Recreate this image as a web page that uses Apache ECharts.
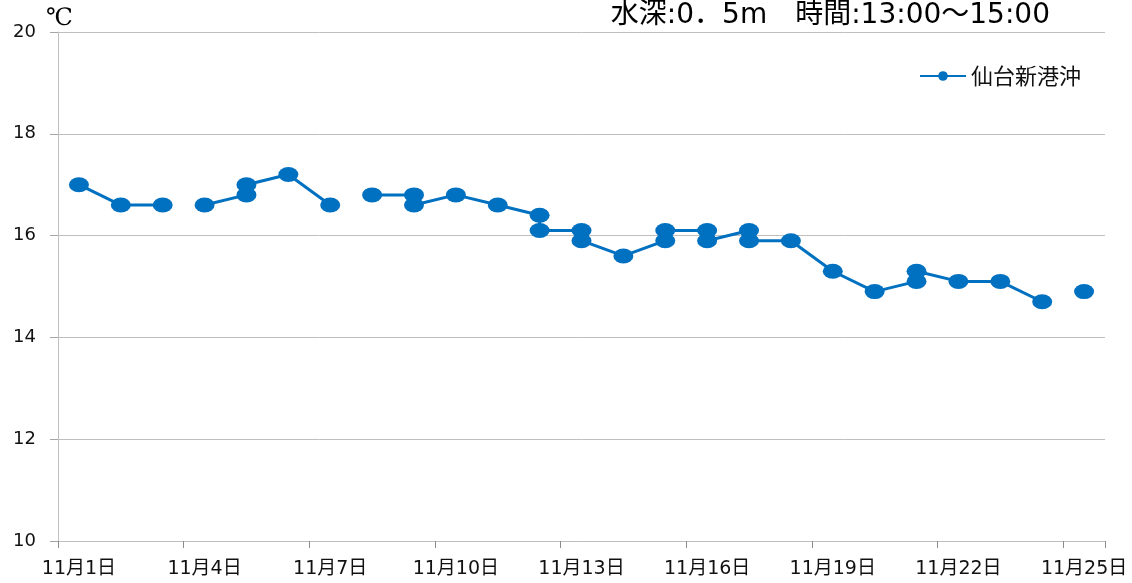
<!DOCTYPE html>
<html>
<head>
<meta charset="utf-8">
<title>仙台新港沖 水温</title>
<script src="https://cdn.jsdelivr.net/npm/echarts@6/dist/echarts.min.js"></script>
<style>
  html, body { margin: 0; padding: 0; background: #fff; }
  #main { width: 1132px; height: 583px; }
</style>
</head>
<body>
<div id="main"></div>
<script>
// 日付（カテゴリ）
var dayLabels = [];
for (var d = 1; d <= 25; d++) dayLabels.push('11月' + d + '日');

// 観測日（11月の日）と水温。null は線の切れ目
var obsDay = [1, 2, 3, 3, 4, 5, 5, 6, 7, 7, 8, 9, 9, 10, 11, 12, 12, 13, 13, 14,
  15, 15, 16, 16, 17, 17, 18, 19, 20, 21, 21, 22, 23, 24, 24, 25];
var obsTemp = [17.0, 16.6, 16.6, null, 16.6, 16.8, 17.0, 17.2, 16.6, null, 16.8, 16.8, 16.6, 16.8, 16.6, 16.4, 16.1, 16.1, 15.9, 15.6,
  15.9, 16.1, 16.1, 15.9, 16.1, 15.9, 15.9, 15.3, 14.9, 15.1, 15.3, 15.1, 15.1, 14.7, null, 14.9];

var yTicks = [10, 12, 14, 16, 18, 20];

var seriesName = '仙台新港沖';
var titleText = '水深:0．5m　時間:13:00～15:00';

var chart = echarts.init(document.getElementById('main'));

var lineData = obsDay.map(function (day, i) {
  return [dayLabels[day - 1], obsTemp[i] == null ? '-' : obsTemp[i]];
});

// 数字は幅の広い DejaVu Sans、漢字は Noto Sans CJK JP にフォールバック
var wideFont = '"DejaVu Sans", "Noto Sans CJK JP", sans-serif';
var jpFont = '"Noto Sans CJK JP", sans-serif';
var gridColor = '#bfbfbf';

var option = {
  animation: false,
  textStyle: { fontFamily: wideFont },
  graphic: [{
    type: 'text',
    right: 82,
    top: 2,
    style: { text: titleText, font: '28px ' + wideFont, fill: '#000' }
  }, {
    type: 'text',
    left: 46,
    top: 7,
    style: { text: '℃', font: '24px "DejaVu Serif", serif', fill: '#000' }
  }],
  legend: {
    data: [seriesName],
    right: 46,
    top: 60,
    itemWidth: 46,
    itemHeight: 12,
    textStyle: { fontSize: 22, color: '#111', fontFamily: jpFont }
  },
  grid: { left: 58, right: 27, top: 32, bottom: 42 },
  xAxis: {
    type: 'category',
    data: dayLabels,
    boundaryGap: true,
    axisLine: { lineStyle: { color: gridColor, width: 1 } },
    axisTick: { show: true, interval: 2, length: 7, lineStyle: { color: '#8c8c8c', width: 1 } },
    axisLabel: { interval: 2, fontSize: 19, color: '#111', margin: 19, fontFamily: wideFont },
    splitLine: { show: false }
  },
  yAxis: {
    type: 'value',
    min: yTicks[0],
    max: yTicks[yTicks.length - 1],
    interval: 2,
    axisLine: { show: true, lineStyle: { color: gridColor, width: 1 } },
    axisTick: { show: true, length: 8, lineStyle: { color: '#a6a6a6' } },
    axisLabel: { fontSize: 18, color: '#111', margin: 22, fontFamily: wideFont },
    splitLine: { lineStyle: { color: gridColor, width: 1 } }
  },
  series: [{
    name: seriesName,
    type: 'line',
    data: lineData,
    connectNulls: false,
    symbol: 'circle',
    symbolSize: [20, 15],
    itemStyle: { color: '#0070c0' },
    lineStyle: { color: '#0070c0', width: 3 }
  }]
};

chart.setOption(option);
</script>
</body>
</html>
